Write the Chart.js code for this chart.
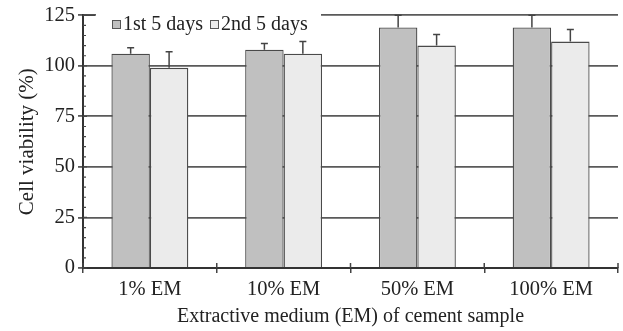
<!DOCTYPE html>
<html>
<head>
<meta charset="utf-8">
<script src="https://cdn.jsdelivr.net/npm/chart.js@4/dist/chart.umd.min.js"></script>
<style>
  html,body{margin:0;padding:0;background:#fff;}
  #wrap{width:623px;height:331px;position:relative;}
</style>
</head>
<body>
<div id="wrap"><canvas id="grafico"></canvas></div>
<script>
const categorias=["1% EM","10% EM","50% EM","100% EM"];
const series=["1st 5 days","2nd 5 days"];
const valores1=[106,108,119,119];
const valores2=[99,106,110,112];
// parte superior de la barra de error (solo hacia arriba)
const error1=[3,3,6,6];
const error2=[8,6,5.5,6];
const yTicks=[0,25,50,75,100,125];

const FUENTE="'Liberation Serif','DejaVu Serif',serif";
const TINTA="#222";

// barras de error
const errorBars={
  id:"errorBars",
  afterDatasetsDraw(chart){
    const ctx=chart.ctx;
    const y=chart.scales.y;
    chart.data.datasets.forEach((ds,i)=>{
      const meta=chart.getDatasetMeta(i);
      meta.data.forEach((bar,j)=>{
        const top=y.getPixelForValue(ds.data[j]+ds.errores[j]);
        ctx.save();
        ctx.strokeStyle="#444";
        ctx.lineWidth=1.5;
        ctx.beginPath();
        ctx.moveTo(bar.x,bar.y);
        ctx.lineTo(bar.x,top);
        ctx.moveTo(bar.x-3.5,top);
        ctx.lineTo(bar.x+3.5,top);
        ctx.stroke();
        ctx.restore();
      });
    });
  }
};

// marcas menores del eje y, leyenda y marcas que cruzan el eje x
const extras={
  id:"extras",
  afterDraw(chart){
    const ctx=chart.ctx;
    const y=chart.scales.y, x=chart.scales.x;
    const area=chart.chartArea;
    ctx.save();
    ctx.strokeStyle="#444";
    ctx.lineWidth=1.2;
    ctx.beginPath();
    for(let v=0;v<=125;v+=5){
      const py=y.getPixelForValue(v);
      ctx.moveTo(area.left,py);
      ctx.lineTo(area.left+(v%25===0?4:3),py);
    }
    ctx.stroke();
    // marca larga en 125 hacia dentro
    ctx.lineWidth=1.5;
    ctx.beginPath();
    const p125=y.getPixelForValue(125);
    ctx.moveTo(area.left,p125);
    ctx.lineTo(area.left+12,p125);
    // marcas del eje x hacia dentro
    for(let i=0;i<=categorias.length;i++){
      const px=x.left+(x.right-x.left)*i/categorias.length;
      ctx.moveTo(px,area.bottom);
      ctx.lineTo(px,area.bottom-5);
    }
    ctx.stroke();

    // leyenda
    ctx.fillStyle="#fff";
    ctx.fillRect(area.left+13,p125-1.5,225,3);
    ctx.font="20px "+FUENTE;
    ctx.textBaseline="middle";
    let lx=112;
    const ly=25;
    chart.data.datasets.forEach(ds=>{
      ctx.fillStyle=ds.backgroundColor;
      ctx.strokeStyle="#555";
      ctx.lineWidth=1;
      ctx.fillRect(lx,ly-4.5,8.5,8.5);
      ctx.strokeRect(lx+0.5,ly-4.5,8,8);
      ctx.fillStyle=TINTA;
      ctx.fillText(ds.label,lx+11,ly);
      lx+=11+ctx.measureText(ds.label).width+7;
    });
    ctx.restore();
  }
};

new Chart("grafico",{
  type:"bar",
  data:{
    labels:categorias,
    datasets:[{
      label:series[0],
      data:valores1,
      errores:error1,
      backgroundColor:"#c0c0c0",
      borderColor:"#4a4a4a",
      borderWidth:1.3,
      barPercentage:1,
      categoryPercentage:0.575
    },{
      label:series[1],
      data:valores2,
      errores:error2,
      backgroundColor:"#ebebeb",
      borderColor:"#4a4a4a",
      borderWidth:1.3,
      barPercentage:1,
      categoryPercentage:0.575
    }]
  },
  plugins:[errorBars,extras],
  options:{
    responsive:true,
    maintainAspectRatio:false,
    animation:false,
    layout:{padding:{top:15,right:5,left:15,bottom:0}},
    plugins:{legend:{display:false},tooltip:{enabled:false}},
    scales:{
      x:{
        offset:true,
        grid:{offset:true,drawOnChartArea:false,color:"#444",lineWidth:1.5,tickLength:5},
        border:{color:"#333",width:2},
        ticks:{color:TINTA,font:{family:FUENTE,size:20.5},padding:4},
        title:{display:true,text:"Extractive medium (EM) of cement sample",color:TINTA,font:{family:FUENTE,size:20},padding:{top:2,bottom:2}},
        afterFit(s){s.height=63;}
      },
      y:{
        min:0,max:125,
        afterBuildTicks(s){s.ticks=yTicks.map(v=>({value:v}));},
        grid:{color:"#5a5a5a",lineWidth:1.8,tickLength:5},
        border:{color:"#333",width:2},
        ticks:{color:TINTA,font:{family:FUENTE,size:20.5},padding:3},
        title:{display:true,text:"Cell viability (%)",color:TINTA,font:{family:FUENTE,size:21},padding:{top:0,bottom:0}},
        afterFit(s){s.width=68;}
      }
    }
  }
});
</script>
</body>
</html>
